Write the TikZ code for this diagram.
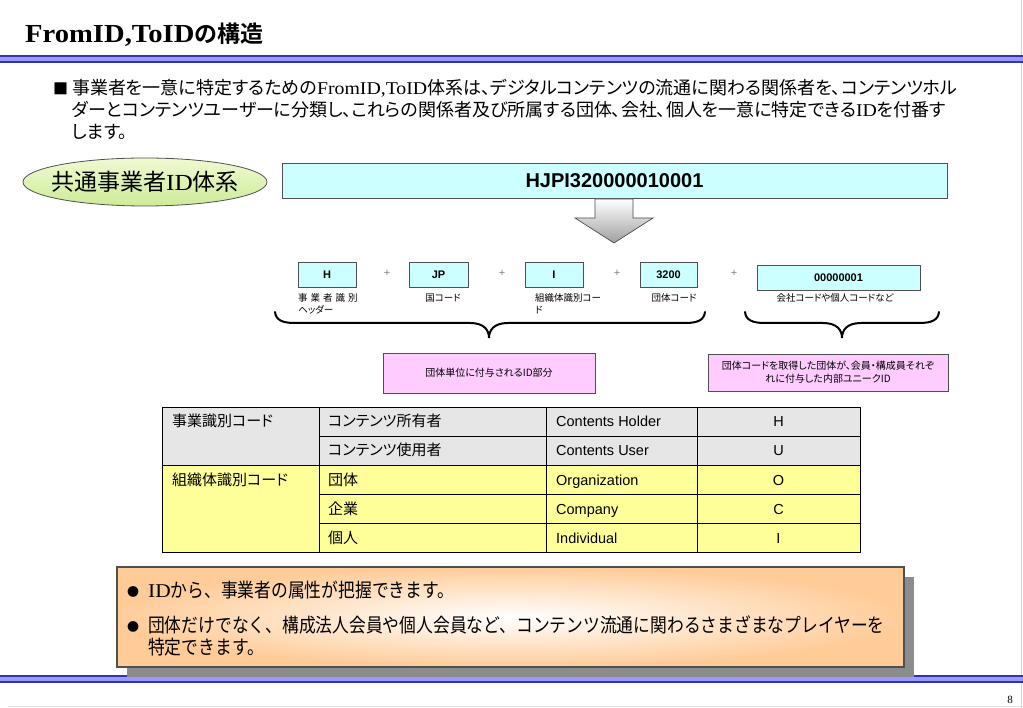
\documentclass[tikz,border=0pt]{standalone}
\usepackage{fontspec}
\setmainfont{Liberation Serif}
\newfontfamily\jp{Noto Sans CJK JP}[RawFeature=+palt]
\newfontfamily\jpf{Noto Sans CJK JP}
\newfontfamily\jpb{Noto Sans CJK JP Bold}
\newfontfamily\jpn{Noto Sans CJK JP}[FakeStretch=0.86]
\newfontfamily\serw{Liberation Serif}[FakeStretch=1.1]
\newfontfamily\serbw{Liberation Serif Bold}[FakeStretch=1.1]
\newfontfamily\ars{Liberation Sans}
\usetikzlibrary{shapes.geometric}
\definecolor{bdark}{HTML}{3333AA}
\definecolor{blight}{HTML}{9999FF}
\definecolor{cyanbox}{HTML}{CCFFFF}
\definecolor{pinkbox}{HTML}{FFCCFF}
\definecolor{greyrow}{HTML}{E6E6E6}
\definecolor{yelrow}{HTML}{FFFF99}
\definecolor{orng}{HTML}{FFCC99}
\definecolor{shadowgrey}{HTML}{8C8C8C}
\definecolor{edge}{HTML}{505050}
\definecolor{elltop}{HTML}{F0FAD2}
\definecolor{ellbot}{HTML}{CDEB98}
\tikzset{
  codebox/.style={draw=edge, line width=0.8pt, fill=cyanbox, minimum height=25pt, inner sep=0pt,
    font=\ars\bfseries\fontsize{11}{13}\selectfont},
  plus/.style={text=gray, font=\ars\fontsize{11}{13}\selectfont, inner sep=0pt},
  small/.style={font=\jp\fontsize{9.5}{12}\selectfont, inner sep=0pt},
  pinkb/.style={draw=edge, line width=0.8pt, fill=pinkbox, inner sep=0pt, align=center,
    font=\jp\fontsize{10}{13}\selectfont},
  tcell/.style={anchor=base west, inner sep=0pt, font=\jp\fontsize{15}{18}\selectfont},
  tlat/.style={anchor=base west, inner sep=0pt, font=\ars\fontsize{14.5}{17}\selectfont},
  brace/.style={line width=2pt, black, line cap=round},
}
\begin{document}
\begin{tikzpicture}[x=1pt,y=-1pt]
\path[use as bounding box] (0,0) rectangle (1023,708);
\fill[white] (0,0) rectangle (1023,708);
% frame lines
\draw[gray!35, line width=0.8pt] (1021.5,0) -- (1021.5,708);
\draw[gray!25, line width=0.8pt] (8,706.5) -- (1023,706.5);
% header rules
\fill[bdark] (0,55) rectangle (1023,56.8);
\fill[blight] (0,56.8) rectangle (1023,61);
\fill[bdark] (0,61) rectangle (1023,62.7);
% footer rules
\fill[bdark] (0,675) rectangle (1023,676.8);
\fill[blight] (0,676.8) rectangle (1023,681);
\fill[bdark] (0,681) rectangle (1023,682.7);

% title
\node[anchor=base west, inner sep=0pt] (title) at (25,43)
  {{\serbw\fontsize{26}{30}\selectfont FromID,ToID}{\jpb\fontsize{23}{28}\selectfont の構造}};

% paragraph
\node[anchor=base west, inner sep=0pt] (sq) at (53,95) {\jpf\fontsize{15}{18}\selectfont ■};
\node[anchor=base west, inner sep=0pt] (p1) at (72,95)
  {\fontsize{18}{22}\selectfont{\jp 事業者を一意に特定するための}{\serw FromID,ToID}{\jp 体系は、デジタルコンテンツの流通に関わる関係者を、コンテンツホル}};
\node[anchor=base west, inner sep=0pt] (p2) at (72,117)
  {\fontsize{18}{22}\selectfont{\jp ダーとコンテンツユーザーに分類し、これらの関係者及び所属する団体、会社、個人を一意に特定できる}{\serw ID}{\jp を付番す}};
\node[anchor=base west, inner sep=0pt] (p3) at (72,139)
  {\fontsize{18}{22}\selectfont\jp します。};

% ellipse
\node[ellipse, draw=edge, line width=0.8pt, top color=elltop, bottom color=ellbot,
  minimum width=244pt, minimum height=48pt, inner sep=0pt] (ell) at (145,182) {};
\node[inner sep=0pt] (elltext) at (ell.center)
  {\fontsize{23}{26}\selectfont{\jpf 共通事業者}{\serw ID}{\jpf 体系}};

% full id box
\node[draw=edge, line width=0.8pt, fill=cyanbox, minimum width=665pt, minimum height=35pt, inner sep=0pt,
  font=\ars\bfseries\fontsize{20}{24}\selectfont] (hjpi) at (614.5,180.5) {HJPI320000010001};

% block arrow
\shade[top color=white, bottom color=gray!75, draw=gray!60!black, line width=0.7pt]
  (595,199) -- (633,199) -- (633,218) -- (653,218) -- (614,243) -- (575,218) -- (595,218) -- cycle;

% code boxes
\node[codebox, minimum width=58pt] (cH) at (327,274.5) {H};
\node[codebox, minimum width=59pt] (cJP) at (438.5,274.5) {JP};
\node[codebox, minimum width=58pt] (cI) at (554,274.5) {I};
\node[codebox, minimum width=57pt] (c32) at (668.5,274.5) {3200};
\node[codebox, minimum width=163pt] (c01) at (838.5,277.5) {00000001};
\node[plus] (pl1) at (387,273) {+};
\node[plus] (pl2) at (502,273) {+};
\node[plus] (pl3) at (617,273) {+};
\node[plus] (pl4) at (734,273) {+};

% labels
\node[small, anchor=west] (l1a) at (298,298) {事\hspace{3pt}業\hspace{3pt}者\hspace{3pt}識\hspace{3pt}別};
\node[small, anchor=west] (l1b) at (298,310) {ヘッダー};
\node[small] (l2) at (443,298) {国コード};
\node[small, anchor=west] (l3a) at (535,298) {組織体識別コー};
\node[small, anchor=west] (l3b) at (535,310) {ド};
\node[small] (l4) at (674,298) {団体コード};
\node[small] (l5) at (835,298) {会社コードや個人コードなど};

% braces
\draw[brace] (275,312) .. controls (276,320) and (282,323) .. (295,323) -- (470,323)
  .. controls (484,323) and (489,330) .. (489,338)
  .. controls (489,330) and (494,323) .. (508,323) -- (685,323)
  .. controls (698,323) and (704,320) .. (705,312);
\draw[brace] (745,312) .. controls (746,320) and (752,323) .. (765,323) -- (823,323)
  .. controls (837,323) and (842,330) .. (842,338)
  .. controls (842,330) and (847,323) .. (861,323) -- (919,323)
  .. controls (932,323) and (938,320) .. (939,312);

% pink boxes
\node[pinkb, minimum width=212pt, minimum height=40pt] (pk1) at (489,373) {団体単位に付与されるID部分};
\node[pinkb, minimum width=240pt, minimum height=37pt] (pk2) at (828,372.5)
  {団体コードを取得した団体が、会員・構成員それぞ\\れに付与した内部ユニークID};

% table
\fill[greyrow] (162,407) rectangle (860,465);
\fill[yelrow] (162,465) rectangle (860,552);
\draw[black, line width=0.9pt] (162,407) rectangle (860,552);
\draw[black, line width=0.9pt] (162,465) -- (860,465);
\draw[black, line width=0.9pt] (319,407) -- (319,552) (546,407) -- (546,552) (697,407) -- (697,552);
\draw[black, line width=0.9pt] (319,436) -- (860,436) (319,494) -- (860,494) (319,523) -- (860,523);
\node[tcell] (t11) at (172,427) {事業識別コード};
\node[tcell] (t31) at (172,485) {組織体識別コード};
\node[tcell] (t12) at (328,427) {コンテンツ所有者};
\node[tcell] (t22) at (328,456) {コンテンツ使用者};
\node[tcell] (t32) at (328,485) {団体};
\node[tcell] (t42) at (328,514) {企業};
\node[tcell] (t52) at (328,543) {個人};
\node[tlat] (t13) at (556,427) {Contents Holder};
\node[tlat] (t23) at (556,456) {Contents User};
\node[tlat] (t33) at (556,485) {Organization};
\node[tlat] (t43) at (556,514) {Company};
\node[tlat] (t53) at (556,543) {Individual};
\node[tlat, anchor=base] (t14) at (778.5,427) {H};
\node[tlat, anchor=base] (t24) at (778.5,456) {U};
\node[tlat, anchor=base] (t34) at (778.5,485) {O};
\node[tlat, anchor=base] (t44) at (778.5,514) {C};
\node[tlat, anchor=base] (t54) at (778.5,543) {I};

% bottom box
\fill[shadowgrey] (127,577) rectangle (914,677);
\shade[inner color=white, outer color=orng] (117,567) rectangle (904,667);
\draw[edge, line width=2pt] (117,567) rectangle (904,667);
\node[anchor=base west, inner sep=0pt] (b1) at (127,596) {\jpf\fontsize{12}{14}\selectfont ●};
\node[anchor=base west, inner sep=0pt] (t1) at (148,597)
  {\fontsize{19.5}{22}\selectfont{\serw ID}{\jpn から、事業者の属性が把握できます。}};
\node[anchor=base west, inner sep=0pt] (b2) at (127,631) {\jpf\fontsize{12}{14}\selectfont ●};
\node[anchor=base west, inner sep=0pt] (t2) at (148,632)
  {\fontsize{19.5}{22}\selectfont\jpn 団体だけでなく、構成法人会員や個人会員など、コンテンツ流通に関わるさまざまなプレイヤーを};
\node[anchor=base west, inner sep=0pt] (t3) at (148,654)
  {\fontsize{19.5}{22}\selectfont\jpn 特定できます。};

% page number
\node[inner sep=0pt, font=\fontsize{11}{13}\selectfont] (pg) at (1010,700) {8};
\end{tikzpicture}
\end{document}
